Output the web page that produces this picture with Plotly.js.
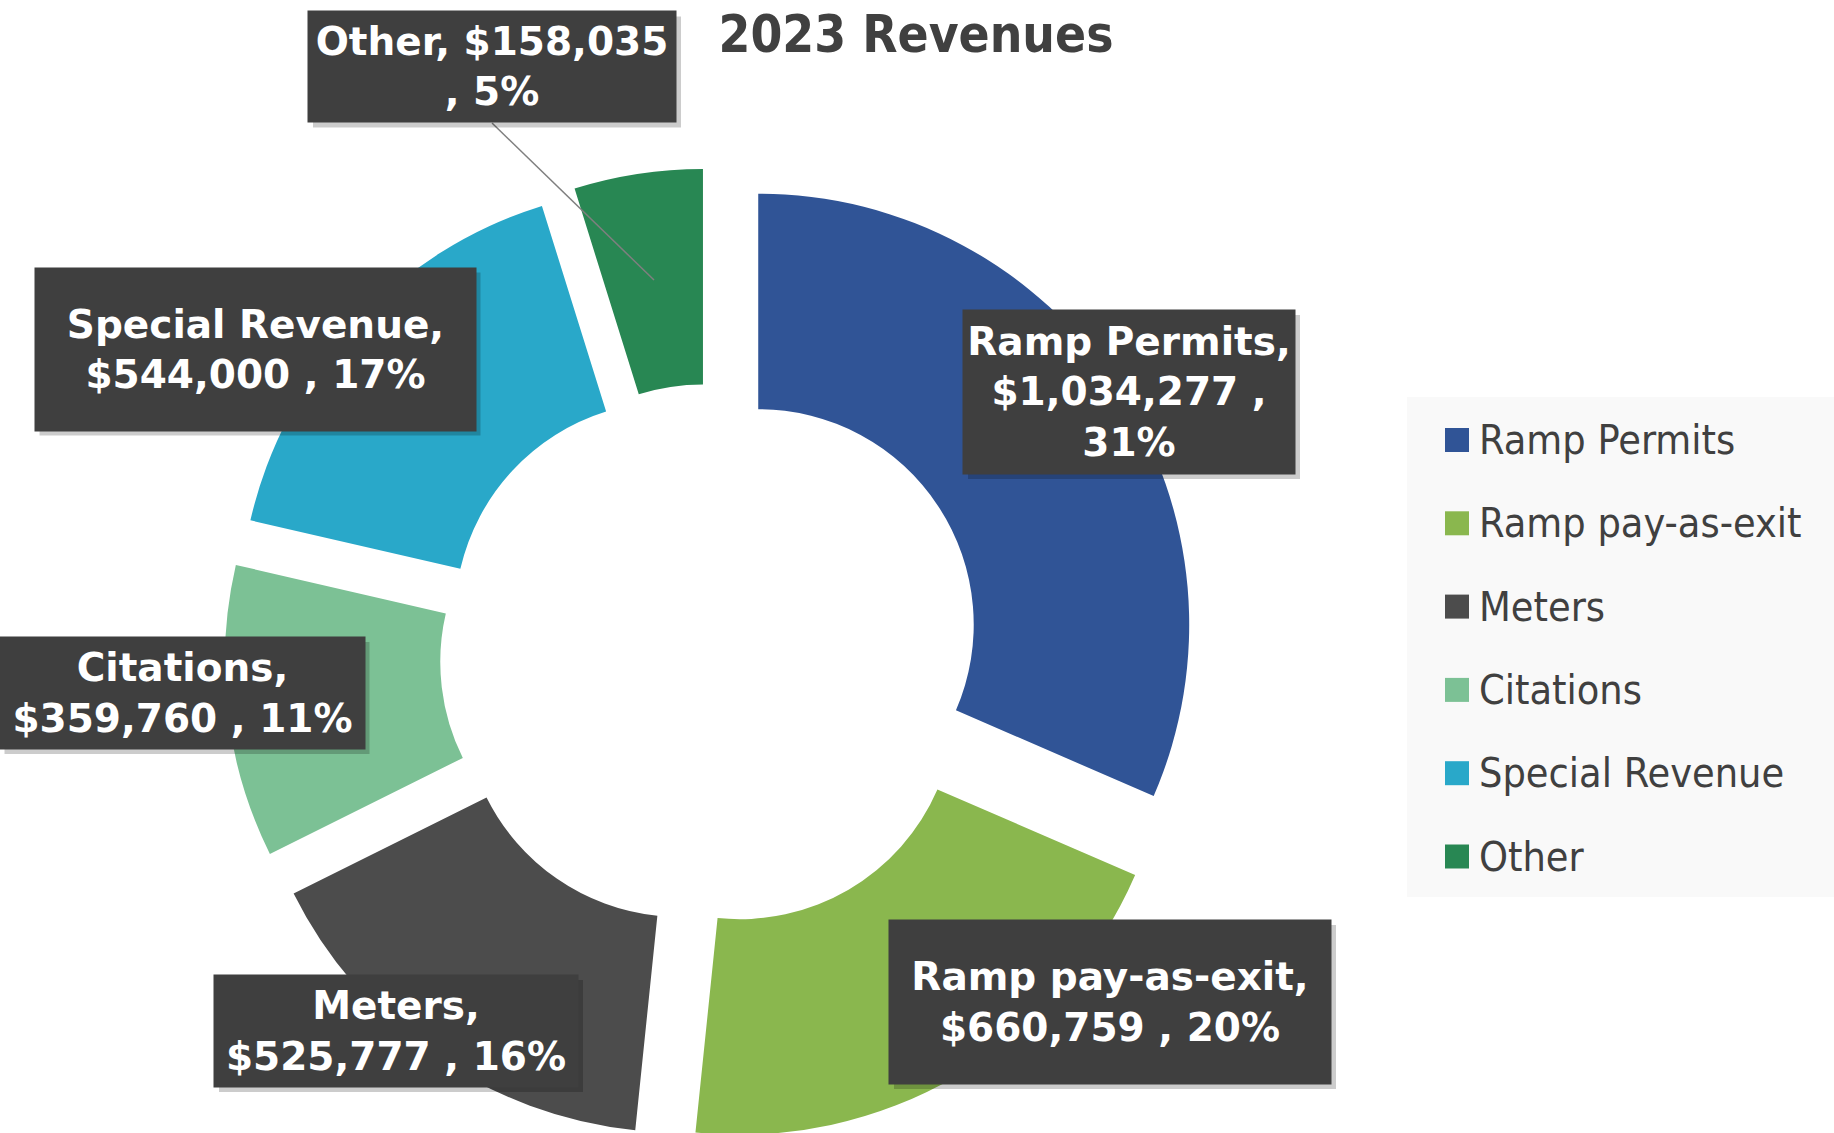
<!DOCTYPE html>
<html>
<head>
<meta charset="utf-8">
<script src="https://cdn.plot.ly/plotly-3.0.1.min.js"></script>
<style>
  html, body { margin: 0; padding: 0; background: #ffffff; }
  #wrap { width: 1834px; height: 1133px; overflow: hidden; }
</style>
</head>
<body>
<div id="wrap"><div id="plot"></div></div>
<script>
// data
const categories = ['Ramp Permits', 'Ramp pay-as-exit', 'Meters', 'Citations', 'Special Revenue', 'Other'];
const revenues = [1034277, 660759, 525777, 359760, 544000, 158035];
const shownPercents = [31, 20, 16, 11, 17, 5];

const sliceColors = ['#305496', '#8AB74E', '#4C4C4C', '#7CC195', '#29A8C9', '#288753'];

// page size (plot is a bit taller than the window so the ring can run off the bottom)
const W = 1834, H = 1150;
const px = x => x / W;
const py = y => 1 - y / H;

// label boxes: centre and size in pixels, plus how the text wraps
const labelBoxes = [
  { cx: 1129, cy: 392, w: 332, h: 164, fmt: '{name},<br>{value} ,<br>{pct}%' },
  { cx: 1110, cy: 1002, w: 442, h: 164, fmt: '{name},<br>{value} , {pct}%' },
  { cx: 396, cy: 1031, w: 364, h: 112, fmt: '{name},<br>{value} , {pct}%' },
  { cx: 182, cy: 693, w: 365, h: 112, fmt: '{name},<br>{value} , {pct}%' },
  { cx: 255, cy: 349, w: 441, h: 163, fmt: '{name},<br>{value} , {pct}%' },
  { cx: 492, cy: 67, w: 368, h: 111, fmt: '{name}, {value}<br>, {pct}%' }
];

function labelText(i) {
  return labelBoxes[i].fmt
    .replace('{name}', categories[i])
    .replace('{value}', '$' + revenues[i].toLocaleString('en-US'))
    .replace('{pct}', shownPercents[i]);
}

const trace = {
  type: 'pie',
  labels: categories,
  values: revenues,
  sort: false,
  direction: 'clockwise',
  rotation: 0,
  hole: 0.5,
  pull: 0.13,
  textinfo: 'none',
  hoverinfo: 'label+value+percent',
  marker: { colors: sliceColors, line: { width: 0 } },
  domain: { x: [224.4 / W, 1198.4 / W], y: [1 - 1142.4 / H, 1 - 168.4 / H] },
  showlegend: false
};

const labelFont = { family: 'DejaVu Sans, Verdana, sans-serif', size: 39, color: '#ffffff', weight: 'bold' };
const legendFont = { family: 'DejaVu Sans Condensed, DejaVu Sans, Tahoma, sans-serif', size: 41, color: '#404040' };

const annotations = [];
const shapes = [];

// leader line for the small "Other" slice
shapes.push({
  type: 'line', xref: 'paper', yref: 'paper',
  x0: px(492), y0: py(123), x1: px(654), y1: py(280),
  line: { color: '#7f7f7f', width: 1.5 }
});

labelBoxes.forEach((b, i) => {
  const pad = 4;
  // drop shadow behind each box
  shapes.push({
    type: 'rect', xref: 'paper', yref: 'paper',
    x0: px(b.cx - b.w / 2 + 5), x1: px(b.cx + b.w / 2 + 5),
    y0: py(b.cy + b.h / 2 + 5), y1: py(b.cy - b.h / 2 + 5),
    fillcolor: 'rgba(0,0,0,0.2)', line: { width: 0 }
  });
  annotations.push({
    xref: 'paper', yref: 'paper', x: px(b.cx), y: py(b.cy),
    xanchor: 'center', yanchor: 'middle',
    text: labelText(i), showarrow: false,
    width: b.w - 2 * pad, height: b.h - 2 * pad, borderpad: pad,
    bgcolor: '#3f3f3f',
    font: labelFont
  });
});

// legend panel on the right
shapes.push({
  type: 'rect', xref: 'paper', yref: 'paper', layer: 'below',
  x0: px(1407), x1: px(1834), y0: py(397), y1: py(897),
  fillcolor: '#f9f9f9', line: { width: 0 }
});
categories.forEach((name, i) => {
  const yc = 440 + i * 83.3;
  shapes.push({
    type: 'rect', xref: 'paper', yref: 'paper',
    x0: px(1445), x1: px(1469), y0: py(yc - 12), y1: py(yc + 12),
    fillcolor: sliceColors[i], line: { width: 0 }
  });
  annotations.push({
    xref: 'paper', yref: 'paper', x: px(1477), y: py(yc),
    xanchor: 'left', yanchor: 'middle',
    text: name, showarrow: false, font: legendFont
  });
});

const layout = {
  width: W,
  height: H,
  margin: { l: 0, r: 0, t: 0, b: 0 },
  paper_bgcolor: '#ffffff',
  title: {
    text: '<b>2023 Revenues</b>',
    x: px(916), xanchor: 'center',
    y: py(34), yanchor: 'middle',
    font: { family: 'DejaVu Sans Condensed, DejaVu Sans, Tahoma, sans-serif', size: 51, color: '#404040' }
  },
  showlegend: false,
  shapes: shapes,
  annotations: annotations
};

Plotly.newPlot('plot', [trace], layout, { displayModeBar: false, responsive: false });
</script>
</body>
</html>
